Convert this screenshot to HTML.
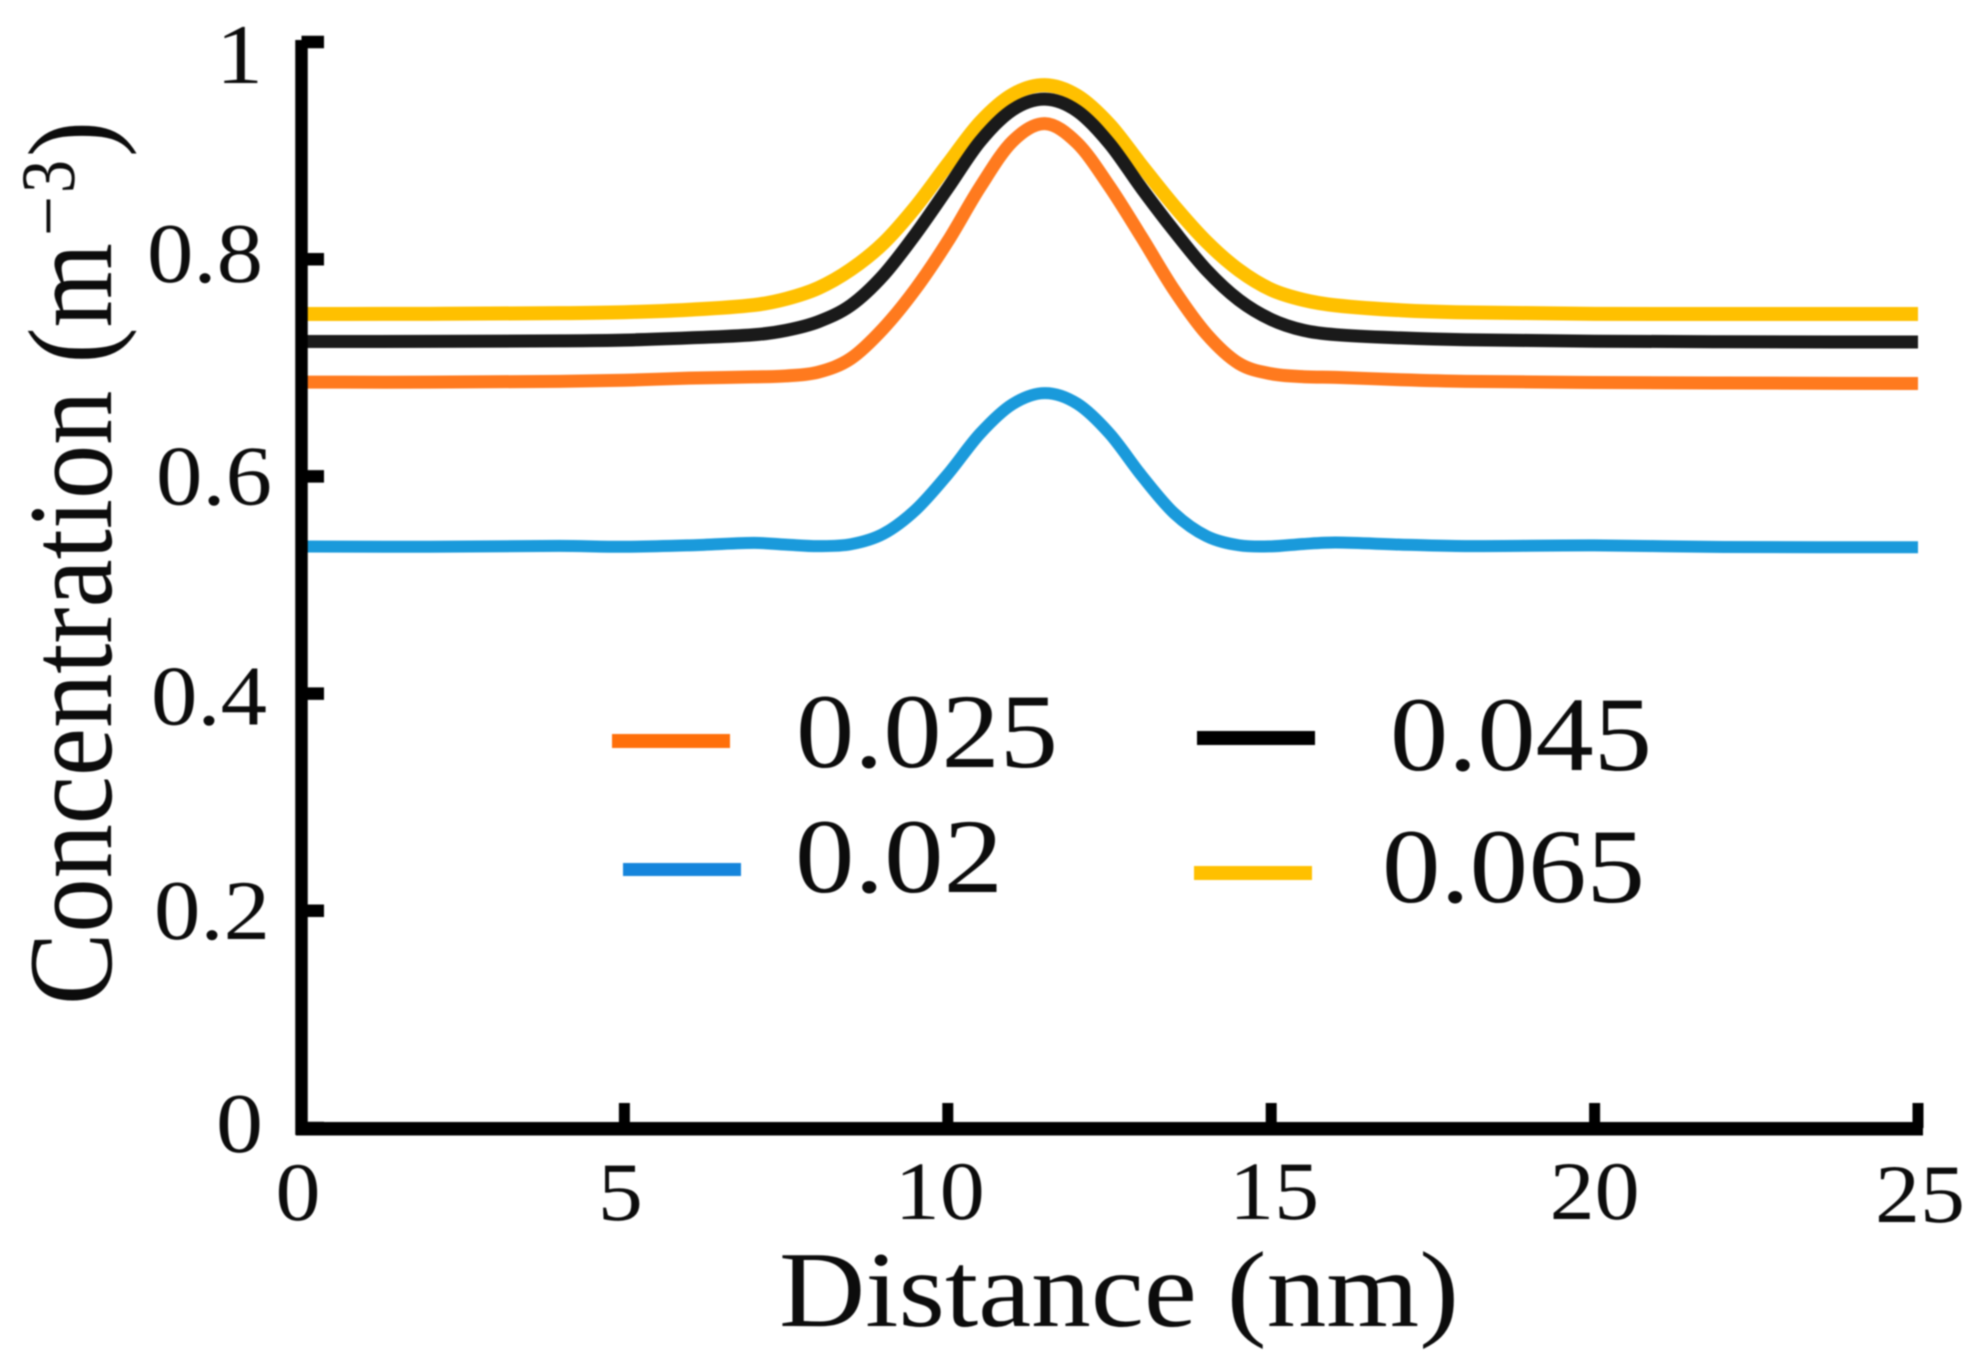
<!DOCTYPE html>
<html>
<head>
<meta charset="utf-8">
<title>Concentration vs Distance</title>
<style>
html,body{margin:0;padding:0;background:#fff;}
svg{display:block;filter:blur(0.8px);text-rendering:geometricPrecision;}
text{font-family:"Liberation Serif",serif;fill:#0c0c0c;}
</style>
</head>
<body>
<svg id="chart" xmlns="http://www.w3.org/2000/svg" width="1979" height="1368" viewBox="0 0 1979 1368">
  <rect x="-10" y="-10" width="1999" height="1388" fill="#fff"/>
  <g id="series"></g>
  <g id="axes"></g>
  <g id="labels"></g>

  <g>
    <text transform="translate(111,1005) rotate(-90)" font-size="120" textLength="762" lengthAdjust="spacingAndGlyphs">Concentration (m</text>
    <text transform="translate(74,236) rotate(-90)" font-size="77" textLength="40" lengthAdjust="spacingAndGlyphs">−</text>
    <text transform="translate(74,193) rotate(-90)" font-size="77" textLength="33" lengthAdjust="spacingAndGlyphs">3</text>
    <text transform="translate(111,157) rotate(-90)" font-size="120" textLength="36" lengthAdjust="spacingAndGlyphs">)</text>
  </g>
  <text x="779" y="1326" font-size="108" textLength="680" lengthAdjust="spacingAndGlyphs">Distance (nm)</text>

  <g>
    <g>
      <rect x="612" y="734" width="118" height="14" fill="#FF6F0A"/>
      <text x="796" y="767" font-size="106" textLength="262" lengthAdjust="spacingAndGlyphs">0.025</text>
    </g>
    <g>
      <rect x="623" y="863" width="118" height="13" fill="#1585DC"/>
      <text x="795" y="892" font-size="106" textLength="208" lengthAdjust="spacingAndGlyphs">0.02</text>
    </g>
    <g>
      <rect x="1197" y="731" width="118" height="14" fill="#000"/>
      <text x="1390" y="770" font-size="106" textLength="262" lengthAdjust="spacingAndGlyphs">0.045</text>
    </g>
    <g>
      <rect x="1194" y="866" width="118" height="14" fill="#FFC000"/>
      <text x="1382" y="902" font-size="106" textLength="263" lengthAdjust="spacingAndGlyphs">0.065</text>
    </g>
  </g>
</svg>

<script>
const distances = [0,2,4,5,6,7,7.5,8,8.5,9,9.5,10,10.5,11,11.5,12,12.5,13,13.5,14,14.5,15,15.5,16,17,18,20,22,25];
const series065 = [.7495,.7497,.7503,.7512,.7535,.7578,.7635,.7735,.7905,.8145,.8480,.8875,.9260,.9515,.9603,.9505,.9240,.8860,.8490,.8160,.7900,.7720,.7625,.7575,.7530,.7510,.7497,.7495,.7495];
const series045 = [.7242,.7243,.7248,.7255,.7275,.7304,.7345,.7425,.7575,.7850,.8230,.8655,.9085,.9375,.9474,.9365,.9065,.8650,.8260,.7900,.7625,.7445,.7345,.7305,.7275,.7258,.7245,.7240,.7237];
const series025 = [.6868,.6868,.6875,.6885,.6905,.6916,.6925,.6960,.7085,.7360,.7725,.8165,.8665,.9085,.9248,.9070,.8670,.8200,.7715,.7310,.7040,.6945,.6918,.6912,.6890,.6875,.6865,.6860,.6855];
const series02  = [.5354,.5352,.5360,.5352,.5365,.5388,.5372,.5358,.5375,.5470,.5690,.6020,.6395,.6665,.6767,.6670,.6395,.6005,.5660,.5450,.5366,.5356,.5378,.5391,.5372,.5358,.5365,.5350,.5348];
const xTicks = [0,5,10,15,20,25];
const yTicks = [0,0.2,0.4,0.6,0.8,1];
const xTickLabels = ["0","5","10","15","20","25"];
const yTickLabels = ["0","0.2","0.4","0.6","0.8","1"];
const xLabelNudgeX = [-3,-4,-8,3,0,2];
const xLabelNudgeY = [92,92,91,91,91,94];
const yLabelRightEdge = [263,270,267,272,263,263];
const yLabelNudgeY = [24,28,31,28,23,41];

const NS = "http://www.w3.org/2000/svg";
const xAxis = d => 301 + d * 64.68;
const yAxis = v => 1128 - v * 1086;

function smoothPath(xs, ys) {
  const px = xs.map(xAxis);
  const py = ys.map(yAxis);
  let d = "M" + px[0].toFixed(2) + " " + py[0].toFixed(2);
  const n = px.length;
  const slope = [];
  for (let i = 0; i < n; i++) {
    const a = Math.max(i - 1, 0);
    const b = Math.min(i + 1, n - 1);
    slope.push((py[b] - py[a]) / (px[b] - px[a]));
  }
  for (let i = 0; i < n - 1; i++) {
    const h = (px[i + 1] - px[i]) / 3;
    d += " C" + (px[i] + h).toFixed(2) + " " + (py[i] + slope[i] * h).toFixed(2) +
         " " + (px[i + 1] - h).toFixed(2) + " " + (py[i + 1] - slope[i + 1] * h).toFixed(2) +
         " " + px[i + 1].toFixed(2) + " " + py[i + 1].toFixed(2);
  }
  return d;
}

const seriesLayer = document.getElementById("series");
function drawSeries(values, color, width, name) {
  const p = document.createElementNS(NS, "path");
  p.setAttribute("d", smoothPath(distances, values));
  p.setAttribute("fill", "none");
  p.setAttribute("stroke", color);
  p.setAttribute("stroke-width", width);
  p.setAttribute("stroke-linejoin", "round");
  
  
  seriesLayer.appendChild(p);
}
drawSeries(series065, "#FFC000", 14, "series-line-0.065");
drawSeries(series045, "#1a1a1a", 13, "series-line-0.045");
drawSeries(series025, "#FF7A1E", 13, "series-line-0.025");
drawSeries(series02, "#1A9ADB", 12, "series-line-0.02");

const axesLayer = document.getElementById("axes");
function addLine(x1, y1, x2, y2, w, name) {
  const l = document.createElementNS(NS, "line");
  l.setAttribute("x1", x1);
  l.setAttribute("y1", y1);
  l.setAttribute("x2", x2);
  l.setAttribute("y2", y2);
  l.setAttribute("stroke", "#000");
  l.setAttribute("stroke-width", w);
  
  
  axesLayer.appendChild(l);
}
addLine(301.5, yAxis(1) - 2, 301.5, yAxis(0) + 7, 12.5, "y-axis-line");
addLine(296, yAxis(0) + 0.7, xAxis(25) + 5, yAxis(0) + 0.7, 13.5, "x-axis-line");
xTicks.forEach(t => addLine(xAxis(t), yAxis(0) - 25, xAxis(t), yAxis(0), 11, "x-tick-" + t));
yTicks.forEach(t => addLine(301.5, yAxis(t), 324, yAxis(t), 12.5, "y-tick-" + t));

const labelLayer = document.getElementById("labels");
xTickLabels.forEach((s, i) => {
  const t = document.createElementNS(NS, "text");
  t.setAttribute("x", xAxis(xTicks[i]) + xLabelNudgeX[i]);
  t.setAttribute("y", yAxis(0) + xLabelNudgeY[i]);
  t.setAttribute("font-size", "83");
  t.setAttribute("text-anchor", "middle");
  t.setAttribute("textLength", s.length * 45);
  t.setAttribute("lengthAdjust", "spacingAndGlyphs");
  
  
  t.textContent = s;
  labelLayer.appendChild(t);
});
yTickLabels.forEach((s, i) => {
  const t = document.createElementNS(NS, "text");
  t.setAttribute("x", yLabelRightEdge[i]);
  t.setAttribute("y", yAxis(yTicks[i]) + yLabelNudgeY[i]);
  t.setAttribute("font-size", "85");
  t.setAttribute("text-anchor", "end");
  t.setAttribute("textLength", s.length === 1 ? 47 : 116);
  t.setAttribute("lengthAdjust", "spacingAndGlyphs");
  
  
  t.textContent = s;
  labelLayer.appendChild(t);
});
</script>
</body>
</html>
